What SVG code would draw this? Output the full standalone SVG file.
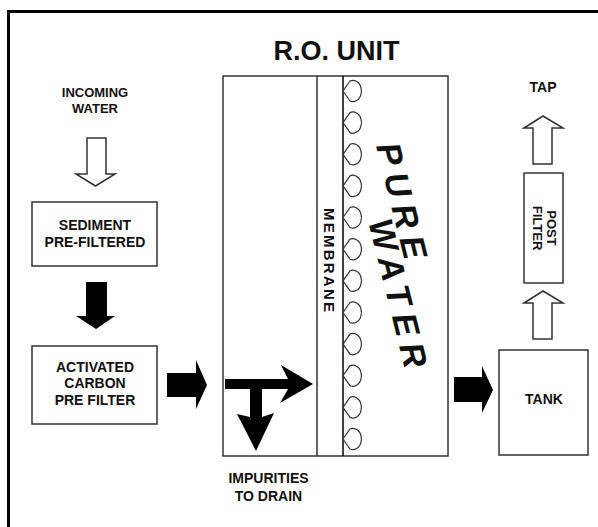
<svg xmlns="http://www.w3.org/2000/svg" width="598" height="527" viewBox="0 0 598 527">
<style>
text{font-family:"Liberation Sans",Arial,sans-serif;font-weight:bold;fill:#111}
.lbl{font-size:14px;text-anchor:middle}
.box{fill:#fff;stroke:#333;stroke-width:1.5}
.hollow{fill:#fff;stroke:#333;stroke-width:1.5;stroke-linejoin:miter}
.solid{fill:#000;stroke:none}
.drop{fill:#fff;stroke:#333;stroke-width:1.2;stroke-linejoin:round}
</style>
<defs>
<path id="drop" class="drop" d="M0,0 L7,-10 C11,-12 17,-9 18,-3 Q19,0 18,3 C17,9 11,12 7,10 Z"/>
</defs>
<rect x="0" y="0" width="598" height="527" fill="#fff"/>
<path d="M8.5,527 L8.5,11.5 L598,11.5" fill="none" stroke="#000" stroke-width="3"/>

<text x="336.5" y="60" style="font-size:27px;text-anchor:middle">R.O. UNIT</text>

<g id="incoming">
<text class="lbl" x="95" y="97" style="font-size:13px">INCOMING</text>
<text class="lbl" x="95" y="113" style="font-size:13px">WATER</text>
</g>

<g id="sediment">
<rect class="box" x="32" y="202" width="125" height="64"/>
<text class="lbl" x="95" y="230">SEDIMENT</text>
<text class="lbl" x="95" y="247">PRE-FILTERED</text>
</g>

<g id="carbon">
<rect class="box" x="32" y="346" width="125" height="78"/>
<text class="lbl" x="95" y="372">ACTIVATED</text>
<text class="lbl" x="95" y="388">CARBON</text>
<text class="lbl" x="95" y="405">PRE FILTER</text>
</g>

<g id="ro-unit">
<rect class="box" x="223" y="76" width="225" height="380"/>
<line x1="317" y1="76" x2="317" y2="456" stroke="#333" stroke-width="1.5"/>
<line x1="343" y1="76" x2="343" y2="456" stroke="#000" stroke-width="1.5"/>
<text transform="translate(323.5,260) rotate(90)" style="font-size:15px;text-anchor:middle" textLength="104" lengthAdjust="spacing">MEMBRANE</text>
<use href="#drop" x="343" y="91"/>
<use href="#drop" x="343" y="122.6"/>
<use href="#drop" x="343" y="154.3"/>
<use href="#drop" x="343" y="185.9"/>
<use href="#drop" x="343" y="217.5"/>
<use href="#drop" x="343" y="249.2"/>
<use href="#drop" x="343" y="280.8"/>
<use href="#drop" x="343" y="312.5"/>
<use href="#drop" x="343" y="344.1"/>
<use href="#drop" x="343" y="375.7"/>
<use href="#drop" x="343" y="407.4"/>
<use href="#drop" x="343" y="439"/>
<g transform="translate(376,146) rotate(76)" style="font-size:34px;font-style:italic;letter-spacing:8px">
<text x="0" y="0">PURE</text>
<text x="72" y="26">WATER</text>
</g>
</g>

<g id="impurities">
<text class="lbl" x="268.5" y="483">IMPURITIES</text>
<text class="lbl" x="268.5" y="501">TO DRAIN</text>
</g>

<g id="tank">
<rect class="box" x="499" y="350" width="89" height="105"/>
<text class="lbl" x="544" y="404">TANK</text>
</g>

<g id="post-filter">
<rect class="box" x="524" y="173" width="39" height="110"/>
<text transform="translate(547,228) rotate(90)" style="font-size:13px;text-anchor:middle">POST</text>
<text transform="translate(533,228) rotate(90)" style="font-size:13px;text-anchor:middle">FILTER</text>
</g>

<g id="tap">
<text class="lbl" x="543" y="92">TAP</text>
</g>

<g id="connectors">
<polygon class="hollow" points="87,138 106,138 106,174 115,174 95.5,186 76,174 87,174"/>
<polygon class="solid" points="86,282 107,282 107,316 115,316 96,329 76,316 86,316"/>
<polygon class="solid" points="167,373 196,373 196,360 207,385 196,409 196,397 167,397"/>
<path class="solid" d="M225,379 L288,379 L281,365 L313,384 L280,403 L288,389 L262,389 L262,417 L274,413 L256,451 L237,414 L250,417 L250,389 L225,389 Z"/>
<polygon class="solid" points="454,377 482,377 482,366 493,390 482,413 482,402 454,402"/>
<polygon class="hollow" points="524,303 543,291 563,303 552,303 552,339 533,339 533,303"/>
<polygon class="hollow" points="524,128 543,116 563,128 552,128 552,164 533,164 533,128"/>
</g>
</svg>
